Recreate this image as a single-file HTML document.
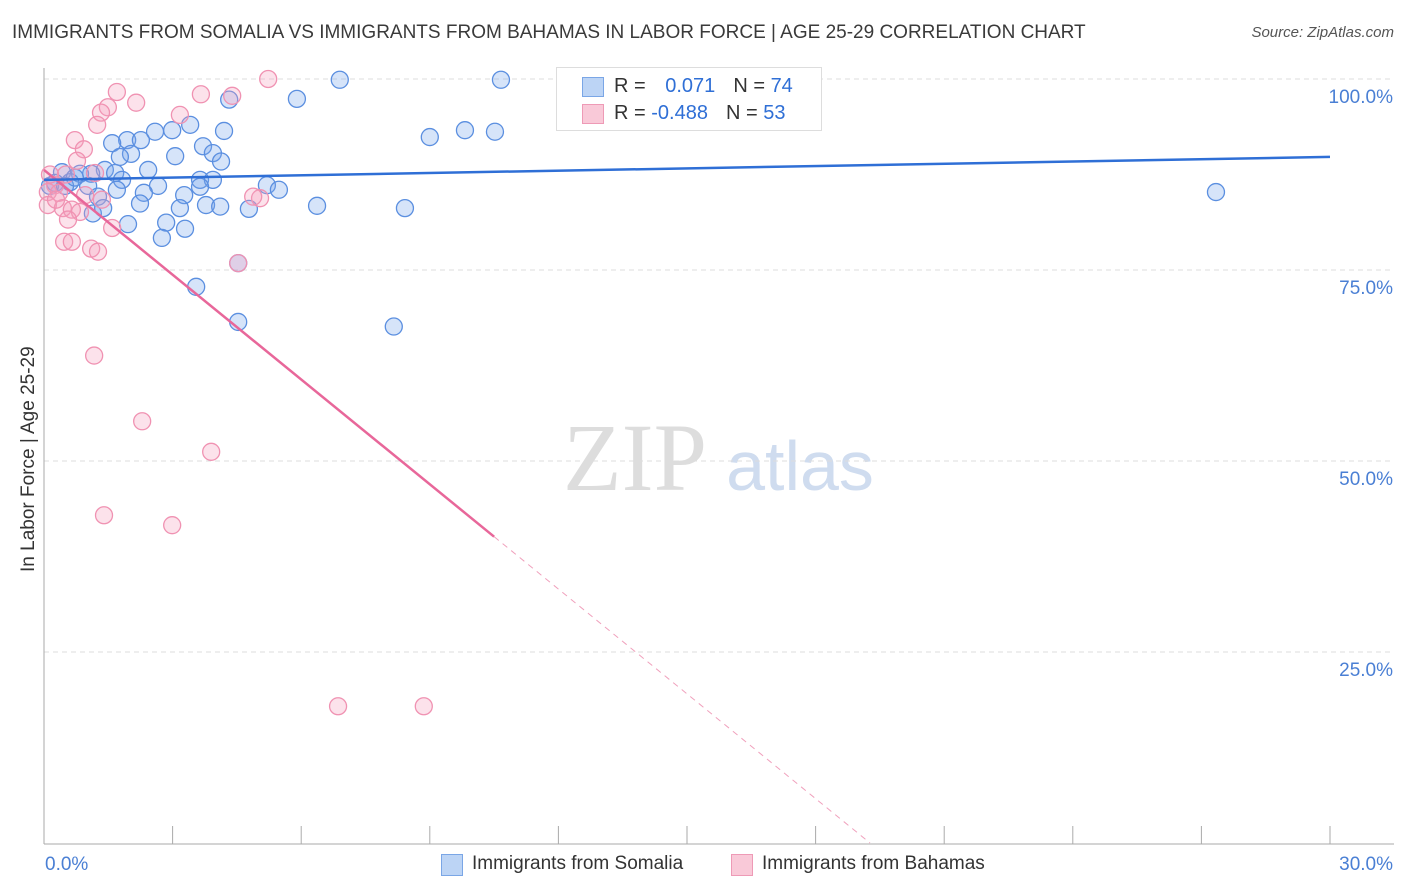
<!DOCTYPE html>
<html><head><meta charset="utf-8"><style>
body{margin:0;background:#fff;font-family:"Liberation Sans",sans-serif;}
#wrap{position:relative;width:1406px;height:892px;overflow:hidden;}
.t{position:absolute;white-space:nowrap;}
</style></head><body>
<div id="wrap">
<div class="t" style="left:12px;top:22px;font-size:19px;color:#3a3a3a;">IMMIGRANTS FROM SOMALIA VS IMMIGRANTS FROM BAHAMAS IN LABOR FORCE | AGE 25-29 CORRELATION CHART</div>
<div class="t" style="right:12px;top:24px;font-size:15px;color:#555;font-style:italic;">Source: ZipAtlas.com</div>
<svg id="svg" width="1406" height="892" style="position:absolute;left:0;top:0">
<text x="635" y="490" font-size="96" fill="#ddd" font-family="Liberation Serif" text-anchor="middle">ZIP</text>
<text x="800" y="490" font-size="70" fill="#cfdcef" font-family="Liberation Sans" text-anchor="middle">atlas</text>
</svg>
<div class="t" style="left:18px;top:572px;font-size:19px;color:#333;transform:rotate(-90deg);transform-origin:0 0;">In Labor Force | Age 25-29</div>
<div style="position:absolute;left:556px;top:67px;width:264px;height:62px;border:1px solid #ddd;background:#fff;">
 <div style="position:absolute;left:25px;top:9px;width:20px;height:18px;background:#bcd4f5;border:1px solid #7aa6e6;"></div>
 <div style="position:absolute;left:25px;top:36px;width:20px;height:18px;background:#f9c9d8;border:1px solid #ee9ab6;"></div>
 <div class="t" style="left:57px;top:7px;font-size:20px;color:#333">R = <span style="color:#2f6fd6;margin-left:14px">0.071</span><span style="color:#333;margin-left:18px">N = </span><span style="color:#2f6fd6">74</span></div>
 <div class="t" style="left:57px;top:34px;font-size:20px;color:#333">R = <span style="color:#2f6fd6">-0.488</span><span style="color:#333;margin-left:18px">N = </span><span style="color:#2f6fd6">53</span></div>
</div>
<div style="position:absolute;left:441px;top:854px;width:20px;height:20px;background:#bcd4f5;border:1px solid #7aa6e6;"></div>
<div class="t" style="left:472px;top:853px;font-size:19px;color:#333">Immigrants from Somalia</div>
<div style="position:absolute;left:731px;top:854px;width:20px;height:20px;background:#f9c9d8;border:1px solid #ee9ab6;"></div>
<div class="t" style="left:762px;top:853px;font-size:19px;color:#333">Immigrants from Bahamas</div>
</div>
<script>
const yTicks=[100,75,50,25];
const yTickLabels=["100.0%","75.0%","50.0%","25.0%"];
const xTicks=[0,3,6,9,12,15,18,21,24,27,30];
const xEndLabels=["0.0%","30.0%"];
const somaliaX=[6.90,10.66,5.90,4.32,9.82,10.52,9.00,2.59,2.99,3.41,4.20,1.94,1.59,2.26,3.71,2.03,1.77,3.06,3.94,4.13,2.43,1.42,1.10,0.42,0.84,1.66,3.64,3.94,1.82,2.66,1.03,1.70,3.64,5.20,5.48,3.27,2.33,1.26,2.24,3.17,3.78,4.11,4.78,6.37,8.42,1.14,1.38,1.96,2.85,3.29,2.75,4.53,3.55,4.53,8.16,27.34,0.26,0.61,0.14,0.49,0.72];
const somaliaY=[99.9,99.9,97.4,97.3,93.3,93.1,92.4,93.1,93.3,94.0,93.2,92.0,91.6,92.0,91.2,90.2,89.8,89.9,90.3,89.2,88.1,88.1,87.6,87.8,87.6,87.7,86.8,86.8,86.8,86.0,86.0,85.5,85.9,86.1,85.5,84.8,85.1,84.6,83.7,83.1,83.5,83.3,83.0,83.4,83.1,82.4,83.1,81.0,81.2,80.4,79.2,75.9,72.8,68.2,67.6,85.2,86.4,86.5,86.0,86.0,87.1];
const bahamasX=[5.23,1.70,3.66,4.39,2.15,1.49,1.33,3.17,1.24,0.72,0.93,0.77,0.51,1.19,0.26,0.09,0.35,0.09,0.44,0.65,0.84,0.56,1.35,1.59,5.04,4.88,0.47,0.65,1.10,1.26,4.53,1.17,2.29,3.90,1.40,2.99,6.86,8.86,0.14,0.28,0.96];
const bahamasY=[100,98.3,98.0,97.8,96.9,96.3,95.6,95.3,94.0,92.0,90.8,89.3,87.5,87.7,86.1,85.2,85.1,83.5,83.1,82.9,82.6,81.6,84.2,80.5,84.4,84.6,78.7,78.7,77.8,77.4,75.9,63.8,55.2,51.2,42.9,41.6,17.9,17.9,87.5,84.2,84.8];
const somaliaTrend=[86.8,89.8];
const bahamasTrend=[88.1,0];
const bahamasSolidEnd=10.5;
const bahamasZeroX=19.27;

const X0=44,X1=1330,Y100=79,Y0=843;
const sx=v=>X0+(v/30)*(X1-X0);
const sy=v=>Y0-(v/100)*(Y0-Y100);
const svg=document.getElementById('svg');
const NS='http://www.w3.org/2000/svg';
function mk(tag,attrs){const e=document.createElementNS(NS,tag);for(const k in attrs)e.setAttribute(k,attrs[k]);svg.appendChild(e);return e;}
yTicks.forEach((t,i)=>{
 const g=mk('line',{x1:X0,x2:1394,y1:sy(t),y2:sy(t),stroke:'#ddd','stroke-dasharray':'5,4'});
 
 
 const l=mk('text',{x:1393,y:sy(t)+24,'font-size':19,fill:'#4a7fd4','text-anchor':'end'});
 l.textContent=yTickLabels[i];
 
 
});
const ax=mk('line',{x1:X0,x2:X0,y1:68,y2:Y0+1,stroke:'#aaa'});


const bx=mk('line',{x1:X0,x2:1394,y1:Y0+1,y2:Y0+1,stroke:'#aaa'});


xTicks.forEach(t=>{
 const tk=mk('line',{x1:sx(t),x2:sx(t),y1:826,y2:Y0+1,stroke:'#aaa'});
 
 
});
const xl0=mk('text',{x:45,y:870,'font-size':19,fill:'#4a7fd4'});xl0.textContent=xEndLabels[0];


const xl1=mk('text',{x:1393,y:870,'font-size':19,fill:'#4a7fd4','text-anchor':'end'});xl1.textContent=xEndLabels[1];


somaliaX.forEach((x,i)=>{
 const c=mk('circle',{cx:sx(x),cy:sy(somaliaY[i]),r:8.5,fill:'rgba(120,165,235,0.3)',stroke:'#5b8fe0','stroke-width':1.3});
 
 
});
bahamasX.forEach((x,i)=>{
 const c=mk('circle',{cx:sx(x),cy:sy(bahamasY[i]),r:8.5,fill:'rgba(245,160,190,0.3)',stroke:'#f092b2','stroke-width':1.3});
 
 
});
const by=x=>bahamasTrend[0]+(bahamasTrend[1]-bahamasTrend[0])*x/bahamasZeroX;
const bt=mk('line',{x1:sx(0),y1:sy(by(0)),x2:sx(bahamasSolidEnd),y2:sy(by(bahamasSolidEnd)),stroke:'#e8679a','stroke-width':2.5});


const bd=mk('line',{x1:sx(bahamasSolidEnd),y1:sy(by(bahamasSolidEnd)),x2:sx(bahamasZeroX),y2:sy(0),stroke:'#f0a0bc','stroke-width':1,'stroke-dasharray':'6,5'});


const st=mk('line',{x1:sx(0),y1:sy(somaliaTrend[0]),x2:sx(30),y2:sy(somaliaTrend[1]),stroke:'#2f6fd6','stroke-width':2.5});


</script>
</body></html>
